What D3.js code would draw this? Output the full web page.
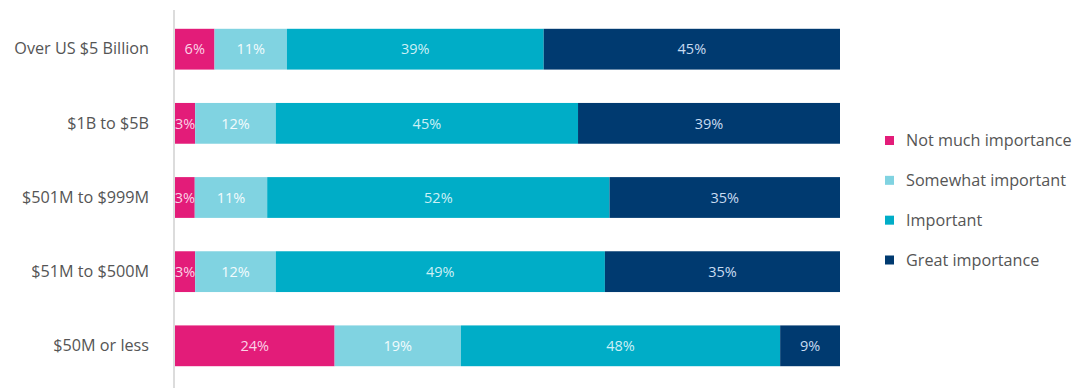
<!DOCTYPE html>
<html>
<head>
<meta charset="utf-8">
<script src="https://cdn.jsdelivr.net/npm/d3@7"></script>
<style>
  html, body { margin: 0; padding: 0; background: #fff; }
  svg { display: block; }
</style>
</head>
<body>
<svg id="chart" width="1080" height="390"></svg>
<script>
const categories = ["Over US $5 Billion", "$1B to $5B", "$501M to $999M", "$51M to $500M", "$50M or less"];
const seriesNames = ["Not much importance", "Somewhat important", "Important", "Great importance"];
const notMuch   = [6, 3, 3, 3, 24];
const somewhat  = [11, 12, 11, 12, 19];
const important = [39, 45, 52, 49, 48];
const great     = [45, 39, 35, 35, 9];

const colors = ["#e31c79", "#80d3e1", "#00adc7", "#003a70"];
const labelColors = ["#fbd3e6", "#f2fbfd", "#cdf0f6", "#c9dcf1"];

const rows = categories.map((c, i) => ({
  cat: c,
  [seriesNames[0]]: notMuch[i],
  [seriesNames[1]]: somewhat[i],
  [seriesNames[2]]: important[i],
  [seriesNames[3]]: great[i]
}));

const stack = d3.stack().keys(seriesNames).offset(d3.stackOffsetExpand);
const stacked = stack(rows);

const svg = d3.select("#chart");
const font = "'Open Sans', sans-serif";

const x = d3.scaleLinear().domain([0, 1]).range([175, 840]);
const y = d3.scaleBand().domain(categories).range([11, 384]).paddingInner(0.45).paddingOuter(0.24);

// bars
const g = svg.append("g");
stacked.forEach((s, si) => {
  const sg = g.append("g");
  sg.selectAll("rect").data(s).join("rect")
    .attr("x", d => x(d[0]))
    .attr("y", d => y(d.data.cat))
    .attr("width", d => x(d[1]) - x(d[0]))
    .attr("height", y.bandwidth())
    .attr("fill", colors[si]);
  sg.selectAll("text").data(s).join("text")
    .attr("x", d => (x(d[0]) + x(d[1])) / 2)
    .attr("y", d => y(d.data.cat) + y.bandwidth() / 2)
    .attr("dy", "0.36em")
    .attr("text-anchor", "middle")
    .attr("font-family", font)
    .attr("font-size", 14.5)
    .attr("fill", labelColors[si])
    .text(d => d.data[s.key] + "%");
});

// axis line
const yAxis = d3.axisLeft(y).tickSize(0).tickPadding(25);
const ax = svg.append("g").attr("transform", "translate(174,0)").call(yAxis);
ax.select(".domain").attr("d", "M0,10V388").attr("stroke", "#dcdcdc").attr("stroke-width", 2);
ax.selectAll(".tick text")
  .attr("font-family", font)
  .attr("font-size", 16.2)
  .attr("fill", "#555");

// legend
const legend = svg.append("g").attr("transform", "translate(885,0)");
const ly = d3.scalePoint().domain(seriesNames).range([140.5, 260]);
seriesNames.forEach((n, i) => {
  legend.append("rect")
    .attr("x", 0).attr("y", ly(n) - 4.5)
    .attr("width", 9).attr("height", 9)
    .attr("fill", colors[i]);
  legend.append("text")
    .attr("x", 21).attr("y", ly(n))
    .attr("dy", "0.36em")
    .attr("font-family", font)
    .attr("font-size", 16.2)
    .attr("fill", "#555")
    .text(n);
});
</script>
</body>
</html>
